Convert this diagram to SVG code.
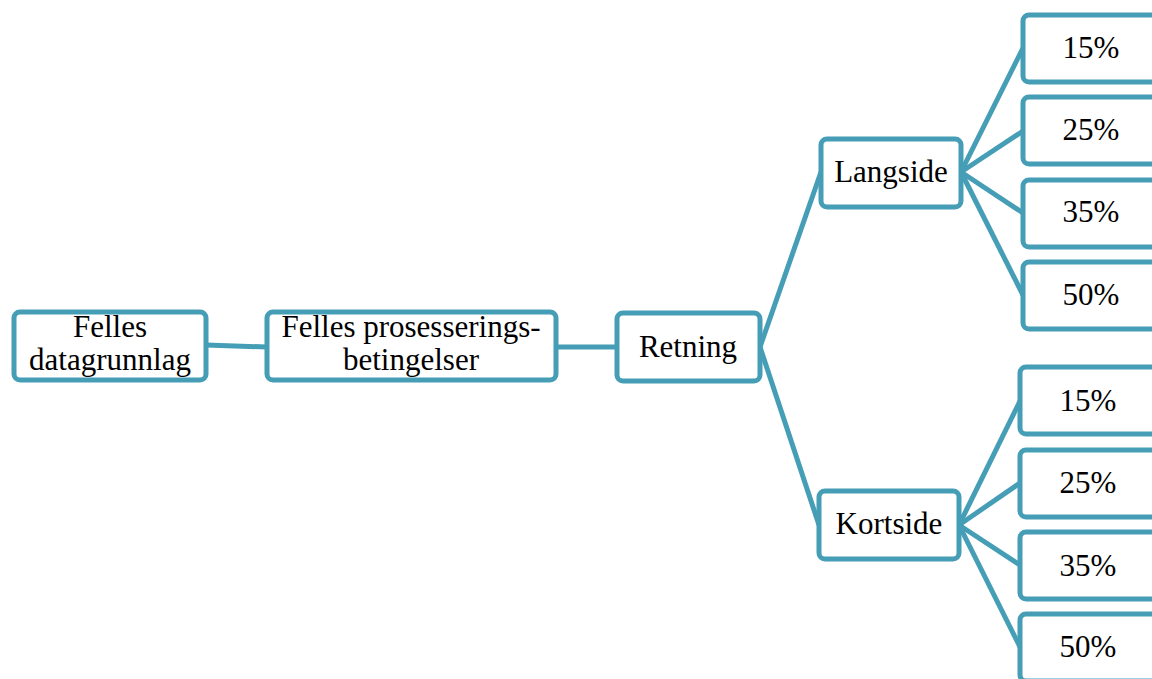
<svg xmlns="http://www.w3.org/2000/svg" width="1152" height="679" viewBox="0 0 1152 679">
<style>
.box{fill:#fff;stroke:#459EB5;stroke-width:5}
.con{stroke:#459EB5;stroke-width:5;fill:none}
text{font-family:"Liberation Serif","Times New Roman",serif;font-size:31px;fill:#000;text-anchor:middle}
</style>
<rect width="1152" height="679" fill="#fff"/>
<g id="connectors">
<line class="con" x1="206" y1="345" x2="267" y2="347"/>
<line class="con" x1="556" y1="347" x2="617" y2="347"/>
<line class="con" x1="760" y1="347" x2="821" y2="172"/>
<line class="con" x1="760" y1="347" x2="819" y2="525"/>
<line class="con" x1="961" y1="172" x2="1023" y2="48"/>
<line class="con" x1="961" y1="172" x2="1023" y2="131"/>
<line class="con" x1="961" y1="172" x2="1023" y2="213"/>
<line class="con" x1="961" y1="172" x2="1023" y2="295"/>
<line class="con" x1="959" y1="525" x2="1020" y2="401"/>
<line class="con" x1="959" y1="525" x2="1020" y2="483"/>
<line class="con" x1="959" y1="525" x2="1020" y2="565"/>
<line class="con" x1="959" y1="525" x2="1020" y2="647"/>
</g>
<g id="n1"><rect class="box" x="14" y="312" width="192" height="68" rx="6"/><text x="110" y="337">Felles</text><text x="110" y="370">datagrunnlag</text></g>
<g id="n2"><rect class="box" x="267" y="312" width="289" height="68" rx="6"/><text x="411" y="337">Felles prosesserings-</text><text x="411" y="370">betingelser</text></g>
<g id="n3"><rect class="box" x="617" y="313" width="143" height="68" rx="6"/><text x="688" y="357">Retning</text></g>
<g id="langside"><rect class="box" x="821" y="139" width="140" height="68" rx="6"/><text x="891" y="182">Langside</text></g>
<g id="kortside"><rect class="box" x="819" y="491" width="140" height="68" rx="6"/><text x="889" y="534">Kortside</text></g>
<g id="l15"><rect class="box" x="1023" y="15" width="140" height="67" rx="6"/><text x="1091" y="58">15%</text></g>
<g id="l25"><rect class="box" x="1023" y="97" width="140" height="67" rx="6"/><text x="1091" y="140">25%</text></g>
<g id="l35"><rect class="box" x="1023" y="180" width="140" height="67" rx="6"/><text x="1091" y="222">35%</text></g>
<g id="l50"><rect class="box" x="1023" y="262" width="140" height="67" rx="6"/><text x="1091" y="305">50%</text></g>
<g id="k15"><rect class="box" x="1020" y="367" width="140" height="67" rx="6"/><text x="1088" y="411">15%</text></g>
<g id="k25"><rect class="box" x="1020" y="450" width="140" height="67" rx="6"/><text x="1088" y="493">25%</text></g>
<g id="k35"><rect class="box" x="1020" y="532" width="140" height="67" rx="6"/><text x="1088" y="576">35%</text></g>
<g id="k50"><rect class="box" x="1020" y="614" width="140" height="67" rx="6"/><text x="1088" y="657">50%</text></g>
</svg>
